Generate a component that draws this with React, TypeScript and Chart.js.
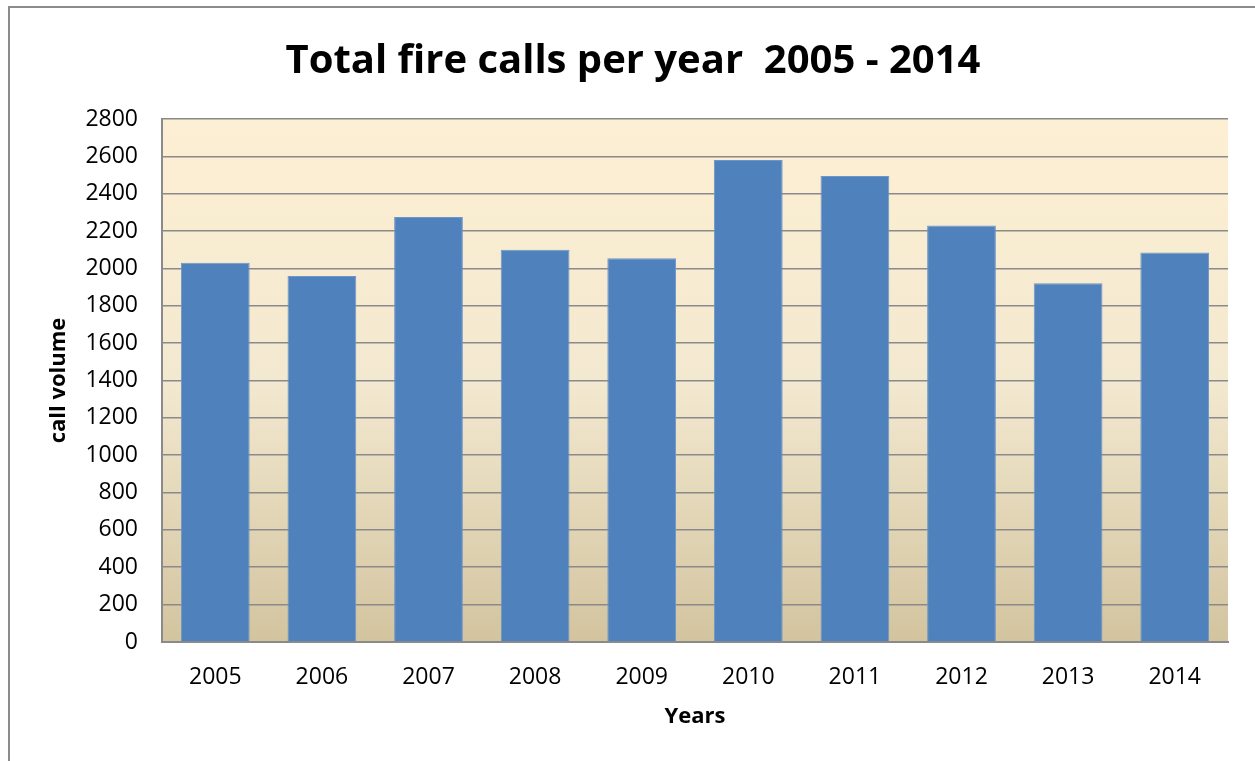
import React, { useEffect, useRef } from "react";
import { Chart, registerables } from "chart.js";

Chart.register(...registerables);

const chartTitle = "Total fire calls per year  2005 - 2014";
const xAxisTitle = "Years";
const yAxisTitle = "call volume";
const years = ["2005", "2006", "2007", "2008", "2009", "2010", "2011", "2012", "2013", "2014"];
const callVolume = [2030, 1960, 2275, 2100, 2055, 2580, 2495, 2230, 1920, 2085];
const yMin = 0;
const yMax = 2800;
const yStep = 200;

const FONT = "'Open Sans', 'DejaVu Sans', sans-serif";

const plotBackground = {
  id: "plotBackground",
  beforeDraw(chart: any) {
    const { ctx, chartArea } = chart;
    if (!chartArea) return;
    const g = ctx.createLinearGradient(0, chartArea.top, 0, chartArea.bottom);
    g.addColorStop(0, "rgb(253,239,211)");
    g.addColorStop(0.5, "rgb(243,233,208)");
    g.addColorStop(1, "rgb(211,196,159)");
    ctx.save();
    ctx.fillStyle = g;
    ctx.fillRect(chartArea.left, chartArea.top, chartArea.right - chartArea.left, chartArea.bottom - chartArea.top);
    ctx.restore();
  },
};

export default function App() {
  const ref = useRef<HTMLCanvasElement | null>(null);

  useEffect(() => {
    if (!ref.current) return;
    const chart = new Chart(ref.current, {
      type: "bar",
      data: {
        labels: years,
        datasets: [
          {
            label: yAxisTitle,
            data: callVolume,
            backgroundColor: "#4F81BD",
            borderColor: "#6f96c8",
            borderWidth: 1,
            barPercentage: 0.645,
            categoryPercentage: 1,
          },
        ],
      },
      options: {
        responsive: false,
        animation: false,
        devicePixelRatio: 1,
        layout: { padding: { left: 38, right: 27, top: 0, bottom: 0 } },
        plugins: {
          legend: { display: false },
          tooltip: { enabled: false },
          title: {
            display: true,
            text: chartTitle,
            color: "#000",
            font: { family: FONT, size: 40, weight: "bold", lineHeight: 1.2 },
            padding: { top: 38, bottom: 33 },
          },
        },
        scales: {
          x: {
            grid: { display: false, drawTicks: false },
            border: { display: true, color: "#8a8a8a", width: 2 },
            ticks: { color: "#000", font: { family: FONT, size: 23 }, padding: 22 },
            title: {
              display: true,
              text: xAxisTitle,
              color: "#000",
              font: { family: FONT, size: 22, weight: "bold", lineHeight: 1.2 },
              padding: { top: 0, bottom: 31 },
            },
            afterFit(scale: any) {
              scale.height = 119;
            },
          },
          y: {
            min: yMin,
            max: yMax,
            grid: { color: "#8a8a8a", lineWidth: 1.6, drawTicks: false },
            border: { display: true, color: "#8a8a8a", width: 2 },
            ticks: {
              stepSize: yStep,
              color: "#000",
              font: { family: FONT, size: 23 },
              padding: 24,
              callback: (v: any) => String(v),
            },
            title: {
              display: true,
              text: yAxisTitle,
              color: "#000",
              font: { family: FONT, size: 22, weight: "bold", lineHeight: 1.2 },
              padding: { top: 8, bottom: 0 },
            },
            afterFit(scale: any) {
              scale.width = 124;
            },
          },
        },
      },
      plugins: [plotBackground],
    });
    return () => chart.destroy();
  }, []);

  return (
    <div style={{ position: "fixed", left: 0, top: 0, width: 1255, height: 761, overflow: "hidden", background: "#fff" }}>
      <div
        style={{
          position: "absolute",
          left: 8,
          top: 6,
          width: 1300,
          height: 800,
          border: "2px solid #8c8c8c",
          boxSizing: "border-box",
        }}
      />
      <canvas
        ref={ref}
        width={1255}
        height={761}
        style={{ position: "absolute", left: 0, top: 0, width: 1255, height: 761 }}
      />
    </div>
  );
}
